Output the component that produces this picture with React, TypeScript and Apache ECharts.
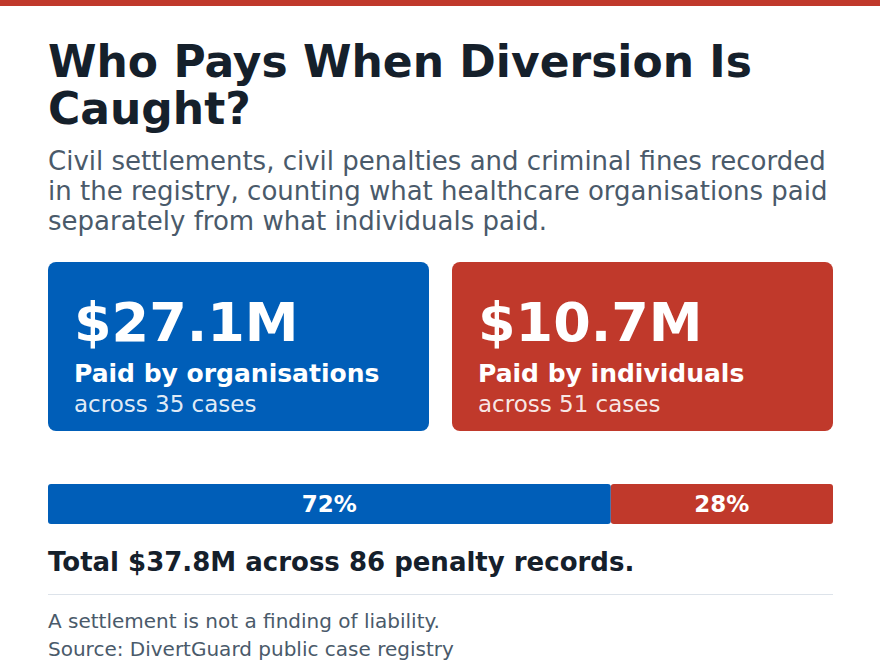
import { useEffect, useRef } from 'react';
import * as echarts from 'echarts';

const TITLE_LINES = ['Who Pays When Diversion Is', 'Caught?'];
const SUBTITLE_LINES = [
  'Civil settlements, civil penalties and criminal fines recorded',
  'in the registry, counting what healthcare organisations paid',
  'separately from what individuals paid.',
];
const GROUPS = ['Organisations', 'Individuals'];
const AMOUNTS_M = [27.1, 10.7];
const AMOUNT_LABELS = ['$27.1M', '$10.7M'];
const CARD_LABELS = ['Paid by organisations', 'Paid by individuals'];
const CASES = [35, 51];
const SHARE_LABELS = ['72%', '28%'];
const TOTAL_M = 37.8;
const COLORS = ['#005eb8', '#c0392b'];
const TOTAL_TEXT = 'Total $37.8M across 86 penalty records.';
const FOOTNOTES = ['A settlement is not a finding of liability.', 'Source: DivertGuard public case registry'];

const FONT = "'DejaVu Sans', sans-serif";
const INK = '#15202b';
const MUTED = '#4a5a6a';

export default function App() {
  const ref = useRef<HTMLDivElement>(null);

  useEffect(() => {
    document.body.style.margin = '0';
    if (!ref.current) return;
    const chart = echarts.init(ref.current, undefined, { renderer: 'svg' });

    const txt = (text: string, x: number, y: number, size: number, color: string, weight: any = 'normal', align: any = 'left') => ({
      type: 'text',
      x,
      y,
      style: { text, fontSize: size, fontWeight: weight, fill: color, fontFamily: FONT, align, verticalAlign: 'middle' },
    });

    const cardW = 381;
    const cards: any[] = [];
    GROUPS.forEach((_, i) => {
      const x0 = 48 + i * 404;
      cards.push({ type: 'rect', shape: { x: x0, y: 262, width: cardW, height: 169, r: 8 }, style: { fill: COLORS[i] } });
      cards.push(txt(AMOUNT_LABELS[i], x0 + 26, 322, 54, '#ffffff', 'bold'));
      cards.push(txt(CARD_LABELS[i], x0 + 26, 373, 25, '#ffffff', 'bold'));
      cards.push(txt(`across ${CASES[i]} cases`, x0 + 26, 404, 23, 'rgba(255,255,255,0.9)'));
    });

    chart.setOption({
      animation: false,
      grid: { left: 48, right: 47, top: 484, height: 40 },
      xAxis: { type: 'value', min: 0, max: TOTAL_M, show: false },
      yAxis: { type: 'category', data: ['share'], show: false },
      series: GROUPS.map((g, i) => ({
        name: g,
        type: 'bar',
        stack: 'total',
        barWidth: 40,
        data: [AMOUNTS_M[i]],
        itemStyle: { color: COLORS[i], borderRadius: 3 },
        label: {
          show: true,
          position: 'inside',
          formatter: () => SHARE_LABELS[i],
          color: '#ffffff',
          fontSize: 23,
          fontWeight: 'bold',
          fontFamily: FONT,
        },
      })),
      graphic: [
        { type: 'rect', shape: { x: 0, y: 0, width: 880, height: 6 }, style: { fill: '#c0392b' } },
        ...TITLE_LINES.map((t, i) => txt(t, 48, 61 + i * 47, 44, INK, 'bold')),
        ...SUBTITLE_LINES.map((t, i) => txt(t, 48, 161 + i * 30, 26, MUTED)),
        ...cards,
        txt(TOTAL_TEXT, 48, 562, 26, INK, 'bold'),
        { type: 'line', shape: { x1: 48, y1: 594.5, x2: 833, y2: 594.5 }, style: { stroke: '#dde3ea', lineWidth: 1 } },
        ...FOOTNOTES.map((t, i) => txt(t, 48, 621 + i * 28, 20, MUTED)),
      ],
    });

    return () => chart.dispose();
  }, []);

  return <div ref={ref} style={{ width: 880, height: 668 }} />;
}
